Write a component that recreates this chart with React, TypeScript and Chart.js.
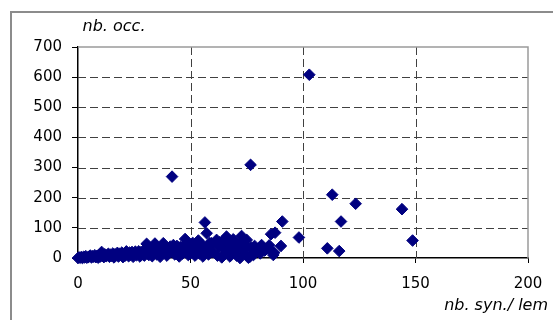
import React, { useEffect, useRef } from "react";
import { Chart, registerables } from "chart.js";

Chart.register(...registerables);

// nb. syn./lem (x) and nb. occ. (y)
const synPerLemma = [
  0, 0.5, 1, 1.5, 2, 2.5, 3, 3.5, 4, 4.5, 5, 5.5, 6, 6.5, 7, 7.5, 8, 8.5, 9, 9.5,
  10, 10.5, 11, 11.5, 12, 12.5, 13, 13.5, 14, 14.5, 15, 15.5, 16, 16.5, 17, 17.5, 18, 18.5, 19, 19.5,
  20, 20.5, 21, 21.5, 22, 22.5, 23, 23.5, 24, 24.5, 25, 25.5, 26, 26.5, 27, 27.5, 28, 28.5, 29, 29.5,
  30.5, 31, 31.5, 32, 32.5, 33, 33.5, 34.2, 34.5, 35, 35.5, 36, 36.5, 37, 37.5, 37.9, 38.5, 39, 39.5, 30,
  40, 40.5, 41, 41.8, 42, 42.4, 43, 43.5, 44, 44.5, 45, 45.5, 46, 46.5, 47, 47.6, 48, 48.5, 49, 49.5,
  50, 50.5, 51, 51.5, 52, 52.5, 53, 53.5, 54, 54.5, 55, 55.5, 56, 56.4, 57.2, 57.9, 58, 58.5, 59.4, 60,
  61.6, 62, 62.5, 63, 63.9, 64.5, 65.3, 66, 66.5, 67, 67.5, 68, 69, 69.5, 70, 70.5, 71, 72, 72.7, 73,
  73.5, 74, 74.5, 75, 75.7, 76.4, 76.7, 77, 78, 78.5, 79, 80, 81, 81.6, 82, 83, 84.6, 85, 85.8, 86.8,
  87.2, 87.6, 90.2, 90.8, 98.2, 102.8, 110.8, 113, 116.1, 116.9, 123.4, 144, 148.7,
];
const occurrences = [
  0, 2, 1, 3, 0, 4, 2, 6, 1, 3, 5, 8, 2, 6, 4, 9, 3, 7, 1, 10,
  5, 20, 8, 3, 12, 6, 9, 14, 4, 11, 7, 15, 2, 12, 9, 17, 5, 14, 10, 18,
  3, 13, 8, 22, 15, 6, 18, 11, 20, 4, 14, 21, 9, 17, 22, 5, 19, 12, 24, 8,
  47, 25, 10, 22, 30, 6, 18, 48, 26, 12, 32, 20, 4, 28, 15, 49, 35, 22, 8, 16,
  30, 18, 38, 270, 25, 43, 12, 33, 40, 20, 5, 36, 28, 15, 40, 63, 22, 32, 10, 45,
  30, 18, 50, 38, 8, 42, 25, 58, 15, 35, 45, 5, 28, 118, 82, 32, 12, 50, 49, 20,
  60, 8, 38, 52, 2, 30, 62, 71, 15, 45, 5, 35, 62, 20, 50, 8, 40, 0, 73, 55,
  25, 45, 12, 60, 1, 4, 309, 35, 10, 40, 22, 30, 15, 43, 35, 25, 32, 42, 79, 10,
  18, 84, 40, 121, 68, 608, 32, 210, 23, 121, 180, 162, 58,
];

const xTickValues = [0, 50, 100, 150, 200];
const yTickValues = [0, 100, 200, 300, 400, 500, 600, 700];
const xTitle = "nb. syn./ lem";
const yTitle = "nb. occ.";

const NAVY = "#000080";
const GRID = "#404040";
const FONT = "'DejaVu Sans', 'Liberation Sans', Arial, sans-serif";

const framePlugin = {
  id: "gridAndFrame",
  beforeDatasetsDraw(chart: any) {
    const { ctx, chartArea: a, scales } = chart;
    ctx.save();
    ctx.strokeStyle = GRID;
    ctx.lineWidth = 1;
    ctx.setLineDash([8, 4]);
    for (const v of xTickValues.slice(1, -1)) {
      const px = Math.round(scales.x.getPixelForValue(v)) + 0.5;
      ctx.beginPath();
      ctx.moveTo(px, a.top);
      ctx.lineTo(px, a.bottom);
      ctx.stroke();
    }
    for (const v of yTickValues.slice(1, -1)) {
      const py = Math.round(scales.y.getPixelForValue(v)) + 0.5;
      ctx.beginPath();
      ctx.moveTo(a.left, py);
      ctx.lineTo(a.right, py);
      ctx.stroke();
    }
    ctx.setLineDash([]);
    ctx.strokeStyle = "#9a9a9a";
    ctx.lineWidth = 1.5;
    ctx.beginPath();
    ctx.moveTo(a.left, a.top);
    ctx.lineTo(a.right, a.top);
    ctx.lineTo(a.right, a.bottom);
    ctx.stroke();
    ctx.restore();
  },
  afterDraw(chart: any) {
    const { ctx, chartArea: a } = chart;
    ctx.save();
    ctx.fillStyle = "#000";
    ctx.font = `oblique 16px ${FONT}`;
    ctx.textBaseline = "middle";
    ctx.textAlign = "center";
    ctx.fillText(yTitle, a.left + 36, a.top - 20);
    ctx.textAlign = "right";
    ctx.fillText(xTitle, a.right + 20, a.bottom + 48);
    ctx.restore();
  },
};

export default function App() {
  const ref = useRef<HTMLCanvasElement>(null);

  useEffect(() => {
    const canvas = ref.current;
    if (!canvas) return;
    const points = synPerLemma.map((x, i) => ({ x, y: occurrences[i] }));
    const chart = new Chart(canvas, {
      type: "scatter",
      data: {
        datasets: [
          {
            data: points,
            pointStyle: "rectRot",
            pointRadius: 5.8,
            pointHoverRadius: 5.8,
            pointBorderWidth: 1,
            backgroundColor: NAVY,
            borderColor: NAVY,
            clip: false,
          } as any,
        ],
      },
      options: {
        responsive: false,
        animation: false,
        events: [],
        layout: { padding: { top: 47, right: 25, left: 0, bottom: 0 } },
        plugins: { legend: { display: false }, tooltip: { enabled: false } },
        scales: {
          x: {
            type: "linear",
            min: 0,
            max: 200,
            afterBuildTicks: (s: any) => {
              s.ticks = xTickValues.map((v) => ({ value: v }));
            },
            afterFit: (s: any) => {
              s.height = 62;
              s.paddingLeft = 0;
              s.paddingRight = 0;
            },
            ticks: {
              font: { family: FONT, size: 15 },
              color: "#000",
              padding: 12,
              maxRotation: 0,
              autoSkip: false,
            },
            grid: { drawOnChartArea: false, tickLength: 5, tickColor: "#000", tickWidth: 1 },
            border: { color: "#000", width: 1.5 },
          },
          y: {
            type: "linear",
            min: 0,
            max: 700,
            afterBuildTicks: (s: any) => {
              s.ticks = yTickValues.map((v) => ({ value: v }));
            },
            afterFit: (s: any) => {
              s.width = 78;
              s.paddingTop = 0;
              s.paddingBottom = 0;
            },
            ticks: {
              font: { family: FONT, size: 15 },
              color: "#000",
              padding: 10,
              autoSkip: false,
            },
            grid: { drawOnChartArea: false, tickLength: 6, tickColor: "#000", tickWidth: 1 },
            border: { color: "#000", width: 1.5 },
          },
        },
      } as any,
      plugins: [framePlugin],
    });
    return () => chart.destroy();
  }, []);

  return (
    <div style={{ position: "fixed", left: 0, top: 0, width: 553, height: 320, background: "#fff" }}>
      <div
        style={{
          position: "absolute",
          left: 10,
          top: 11,
          width: 543,
          height: 309,
          borderLeft: "2px solid #8c8c8c",
          borderTop: "2px solid #8c8c8c",
          boxSizing: "border-box",
        }}
      />
      <canvas
        ref={ref}
        width={553}
        height={320}
        style={{ position: "absolute", left: 0, top: 0 }}
      />
    </div>
  );
}
